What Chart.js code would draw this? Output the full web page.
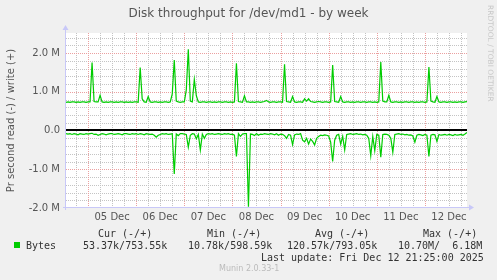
<!DOCTYPE html>
<html>
<head>
<meta charset="utf-8">
<script src="https://cdn.jsdelivr.net/npm/chart.js@4/dist/chart.umd.min.js"></script>
<style>
  body { margin: 0; background: #f0f0f0; }
  #wrap { position: relative; width: 497px; height: 280px; overflow: hidden; }
  canvas { position: absolute; left: 0; top: 0; }
  .t { position: absolute; white-space: pre; font-family: "DejaVu Sans Mono", monospace; font-size: 10px; line-height: 12px; color: #333; }
  .title { position: absolute; left: 0; width: 497px; top: 6px; text-align: center; font-family: "DejaVu Sans", sans-serif; font-size: 12px; color: #555; }
  .side { position: absolute; left: 483px; top: 5px; transform-origin: 0 0; transform: translate(12px, 0) rotate(90deg); font-family: "DejaVu Sans", sans-serif; font-size: 7.5px; color: #c8c8c8; white-space: pre; }
  .munin { position: absolute; left: 219px; top: 264px; font-family: "DejaVu Sans", sans-serif; font-size: 8px; color: #bbb; white-space: pre; }
  .sq { position: absolute; left: 14px; top: 242px; width: 6px; height: 6px; background: #00cc00; }
</style>
</head>
<body>
<div id="wrap">
  <canvas id="c" width="497" height="280"></canvas>
  <div class="title">Disk throughput for /dev/md1 - by week</div>
  <div class="side">RRDTOOL / TOBI OETIKER</div>
  <div class="t" style="left:98px;top:228px">Cur (-/+)</div>
  <div class="t" style="left:207px;top:228px">Min (-/+)</div>
  <div class="t" style="left:315px;top:228px">Avg (-/+)</div>
  <div class="t" style="left:423px;top:228px">Max (-/+)</div>
  <div class="sq"></div>
  <div class="t" style="left:26px;top:240px">Bytes</div>
  <div class="t" style="left:83px;top:240px">53.37k/753.55k</div>
  <div class="t" style="left:188px;top:240px">10.78k/598.59k</div>
  <div class="t" style="left:287px;top:240px">120.57k/793.05k</div>
  <div class="t" style="left:398px;top:240px">10.70M/  6.18M</div>
  <div class="t" style="left:261px;top:252px">Last update: Fri Dec 12 21:25:00 2025</div>
  <div class="munin">Munin 2.0.33-1</div>
</div>
<script>
// hours relative to 05 Dec 00:00, one sample per hour
const startHour = -11;
const endHour = 189;

const xTickHours = [12, 36, 60, 84, 108, 132, 156, 180];
const xTickLabels = ['05 Dec', '06 Dec', '07 Dec', '08 Dec', '09 Dec', '10 Dec', '11 Dec', '12 Dec'];
const yTickValues = [-2, -1, 0, 1, 2];
const yTickLabels = ['-2.0 M', '-1.0 M', '0.0', '1.0 M', '2.0 M'];

// bytes per second, in millions (write is positive)
const writeM = [
  0.73,0.74,0.73,0.74,0.74,0.73,0.74,0.73,0.74,0.74,
  0.73,0.74,0.74,1.76,0.75,0.74,0.74,0.91,0.74,0.73,
  0.74,0.73,0.74,0.74,0.73,0.74,0.73,0.74,0.74,0.73,
  0.74,0.73,0.74,0.73,0.74,0.74,0.73,1.63,0.82,0.74,
  0.73,0.88,0.74,0.73,0.74,0.74,0.73,0.74,0.73,0.74,
  0.74,0.73,0.74,0.95,1.82,0.76,0.74,0.73,0.74,0.74,
  1.05,2.10,0.76,0.74,1.32,0.90,0.74,0.73,0.74,0.74,
  0.73,0.74,0.74,0.73,0.74,0.73,0.74,0.74,0.73,0.74,
  0.74,0.73,0.74,0.73,0.74,1.74,0.75,0.74,0.73,0.90,
  0.74,0.74,0.73,0.74,0.73,0.74,0.74,0.73,0.74,0.75,
  0.78,0.74,0.73,0.74,0.74,0.73,0.74,0.74,0.73,1.71,
  0.75,0.74,0.73,0.88,0.74,0.73,0.74,0.74,0.73,0.82,
  0.76,0.82,0.75,0.74,0.73,0.74,0.75,0.74,0.73,0.74,
  0.74,0.73,0.74,1.69,0.75,0.74,0.73,0.88,0.74,0.73,
  0.74,0.74,0.73,0.74,0.73,0.74,0.74,0.73,0.74,0.74,
  0.73,0.74,0.74,0.73,0.74,0.73,0.74,1.77,0.76,0.74,
  0.74,0.91,0.74,0.73,0.74,0.74,0.73,0.74,0.73,0.74,
  0.74,0.73,0.74,0.74,0.73,0.74,0.73,0.74,0.74,0.73,
  0.74,1.64,0.76,0.74,0.73,0.88,0.74,0.73,0.74,0.74,
  0.73,0.74,0.74,0.73,0.74,0.73,0.74,0.74,0.73,0.74,0.75
];

// read drawn negative
const readM = [
  -0.08,-0.09,-0.08,-0.10,-0.08,-0.09,-0.11,-0.08,-0.09,-0.10,
  -0.08,-0.09,-0.08,-0.07,-0.10,-0.09,-0.12,-0.10,-0.08,-0.09,
  -0.11,-0.09,-0.08,-0.08,-0.10,-0.09,-0.08,-0.09,-0.11,-0.08,
  -0.08,-0.09,-0.10,-0.08,-0.09,-0.08,-0.10,-0.08,-0.09,-0.11,
  -0.08,-0.09,-0.10,-0.09,-0.12,-0.17,-0.12,-0.10,-0.08,-0.09,
  -0.08,-0.10,-0.09,-0.08,-1.12,-0.09,-0.13,-0.08,-0.08,-0.09,
  -0.10,-0.43,-0.12,-0.08,-0.09,-0.21,-0.10,-0.50,-0.09,-0.20,
  -0.10,-0.08,-0.09,-0.08,-0.10,-0.09,-0.08,-0.09,-0.10,-0.08,
  -0.09,-0.08,-0.10,-0.09,-0.12,-0.67,-0.08,-0.15,-0.09,-0.08,
  -0.08,-1.97,-0.09,-0.10,-0.13,-0.08,-0.12,-0.09,-0.10,-0.08,
  -0.09,-0.10,-0.08,-0.09,-0.11,-0.08,-0.12,-0.09,-0.10,-0.13,
  -0.20,-0.10,-0.12,-0.36,-0.11,-0.09,-0.10,-0.08,-0.25,-0.29,
  -0.20,-0.35,-0.22,-0.28,-0.37,-0.20,-0.15,-0.12,-0.13,-0.11,
  -0.12,-0.14,-0.30,-0.80,-0.25,-0.12,-0.10,-0.35,-0.15,-0.50,
  -0.10,-0.09,-0.08,-0.10,-0.09,-0.08,-0.10,-0.09,-0.11,-0.10,
  -0.12,-0.20,-0.65,-0.15,-0.52,-0.10,-0.12,-0.69,-0.10,-0.09,
  -0.10,-0.12,-0.20,-0.56,-0.10,-0.09,-0.08,-0.10,-0.09,-0.11,
  -0.10,-0.12,-0.11,-0.14,-0.30,-0.12,-0.10,-0.11,-0.13,-0.10,
  -0.12,-0.67,-0.12,-0.10,-0.11,-0.28,-0.10,-0.12,-0.11,-0.10,
  -0.12,-0.10,-0.11,-0.13,-0.10,-0.12,-0.11,-0.10,-0.12,-0.09,-0.05
];

const toPoints = arr => arr.map((v, i) => ({ x: startHour + i, y: v }));

const crisp = v => Math.round(v) + 0.5;

// munin style background, dotted grid, axis arrows, zero rule
const muninGrid = {
  id: 'muninGrid',
  beforeDatasetsDraw(chart) {
    const { ctx, chartArea: a, scales: { x, y } } = chart;
    ctx.save();
    ctx.fillStyle = '#ffffff';
    ctx.fillRect(a.left, a.top, a.right - a.left, a.bottom - a.top);
    ctx.lineWidth = 1;
    ctx.setLineDash([1, 1]);
    // minor
    ctx.strokeStyle = '#c4c4c4';
    for (let h = -6; h <= endHour; h += 6) {
      if (h % 24 === 0) continue;
      const px = crisp(x.getPixelForValue(h));
      ctx.beginPath(); ctx.moveTo(px, a.top); ctx.lineTo(px, a.bottom); ctx.stroke();
    }
    for (let k = -10; k <= 12; k++) {
      if (k % 5 === 0) continue;
      const py = crisp(y.getPixelForValue(k * 0.2));
      ctx.beginPath(); ctx.moveTo(a.left, py); ctx.lineTo(a.right, py); ctx.stroke();
    }
    // major
    ctx.strokeStyle = '#eba0a0';
    for (let h = 0; h <= endHour; h += 24) {
      const px = crisp(x.getPixelForValue(h));
      ctx.beginPath(); ctx.moveTo(px, a.top); ctx.lineTo(px, a.bottom); ctx.stroke();
    }
    [-1, 1, 2].forEach(v => {
      const py = crisp(y.getPixelForValue(v));
      ctx.beginPath(); ctx.moveTo(a.left, py); ctx.lineTo(a.right, py); ctx.stroke();
    });
    ctx.restore();
  },
  afterDatasetsDraw(chart) {
    const { ctx, chartArea: a, scales: { y } } = chart;
    ctx.save();
    // zero rule
    const py0 = Math.floor(y.getPixelForValue(0));
    ctx.fillStyle = '#000';
    ctx.fillRect(a.left, py0 - 1, a.right - a.left, 2);
    // axes
    ctx.strokeStyle = '#c8c8f8';
    ctx.fillStyle = '#c8c8f8';
    ctx.lineWidth = 1;
    const lx = crisp(a.left) - 1, by = crisp(a.bottom) - 1;
    ctx.beginPath(); ctx.moveTo(lx, a.bottom + 2); ctx.lineTo(lx, a.top - 4); ctx.stroke();
    ctx.beginPath(); ctx.moveTo(a.left - 3, by); ctx.lineTo(a.right + 4, by); ctx.stroke();
    ctx.beginPath(); ctx.moveTo(lx - 3, a.top - 3); ctx.lineTo(lx + 3, a.top - 3); ctx.lineTo(lx, a.top - 8); ctx.closePath(); ctx.fill();
    ctx.beginPath(); ctx.moveTo(a.right + 2, by - 3); ctx.lineTo(a.right + 2, by + 3); ctx.lineTo(a.right + 7, by); ctx.closePath(); ctx.fill();
    ctx.restore();
  }
};

const tickFont = { family: 'DejaVu Sans', size: 10 };

new Chart(document.getElementById('c'), {
  type: 'line',
  data: {
    datasets: [
      { label: 'write', data: toPoints(writeM), borderColor: '#00cc00', borderWidth: 1.2, pointRadius: 0, tension: 0, fill: false },
      { label: 'read', data: toPoints(readM), borderColor: '#00cc00', borderWidth: 1.2, pointRadius: 0, tension: 0, fill: false }
    ]
  },
  options: {
    responsive: false,
    animation: false,
    devicePixelRatio: 1,
    layout: { padding: { top: 33, right: 30, left: 0, bottom: 0 } },
    plugins: { legend: { display: false }, tooltip: { enabled: false } },
    scales: {
      x: {
        type: 'linear',
        min: startHour,
        max: endHour,
        afterBuildTicks: s => { s.ticks = xTickHours.map(v => ({ value: v })); },
        afterFit: s => { s.height = 72; },
        grid: { display: false, drawTicks: false },
        border: { display: false },
        ticks: { autoSkip: false, maxRotation: 0, padding: 3, color: '#555', font: tickFont, callback: (v, i) => xTickLabels[i] }
      },
      y: {
        type: 'linear',
        min: -2,
        max: 2.52,
        afterBuildTicks: s => { s.ticks = yTickValues.map(v => ({ value: v })); },
        afterFit: s => { s.width = 66; },
        grid: { display: false, drawTicks: false },
        border: { display: false },
        title: { display: true, text: 'Pr second read (-) / write (+)', color: '#555', font: { family: 'DejaVu Sans', size: 10 }, padding: { top: 5, bottom: 0 } },
        ticks: { padding: 6, color: '#555', font: tickFont, callback: (v, i) => yTickLabels[i] }
      }
    }
  },
  plugins: [muninGrid]
});
</script>
</body>
</html>
